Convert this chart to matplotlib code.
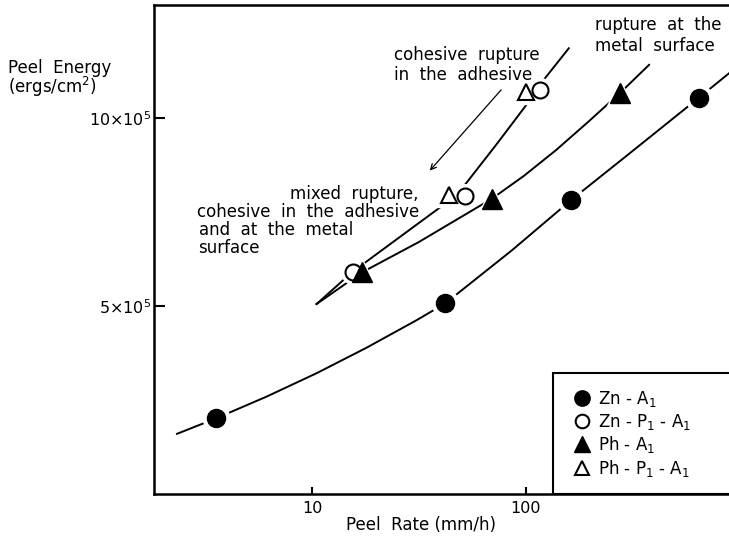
import numpy as np
import matplotlib
matplotlib.use("Agg")
import matplotlib.pyplot as plt
from matplotlib.patches import Rectangle
from matplotlib.ticker import NullLocator

# peel rate (mm/h) and peel energy (x 10^5 ergs/cm2)
zn_rate = [3.56, 42.0, 163, 641]
zn_energy = [2.02, 5.09, 7.82, 10.53]
znp_rate = [15.5, 52.1, 116]
znp_energy = [5.91, 7.91, 10.73]
ph_rate = [17.1, 69.3, 275]
ph_energy = [5.89, 7.85, 10.66]
php_rate = [43.9, 100]
php_energy = [7.95, 10.69]

# hand drawn curves through the points
zn_curve_rate = [2.34, 3.56, 6.14, 10.5, 18.0, 30.8, 42.0, 86, 163, 315, 641, 891]
zn_curve_energy = [1.60, 2.01, 2.59, 3.21, 3.89, 4.62, 5.07, 6.48, 7.82, 9.12, 10.53, 11.19]
coh_curve_rate = [10.5, 15.5, 27.0, 47.6, 73.6, 101.8, 121, 158.5]
coh_curve_energy = [5.05, 5.91, 6.92, 7.95, 9.33, 10.39, 11.01, 11.85]
met_curve_rate = [10.5, 17.1, 31.6, 69.3, 97.9, 138, 195, 275, 376]
met_curve_energy = [5.05, 5.89, 6.70, 7.85, 8.46, 9.14, 9.89, 10.66, 11.41]

fig = plt.figure(figsize=(7.29, 5.39), dpi=100)
ax = fig.add_axes([154 / 729, 1 - 494 / 539, 586 / 729, 489 / 539])

lw = 1.4
for cx, cy in [(zn_curve_rate, zn_curve_energy), (coh_curve_rate, coh_curve_energy),
               (met_curve_rate, met_curve_energy)]:
    ax.plot(cx, cy, color="black", lw=lw, zorder=2)

# white halos so the curves stop short of the symbols
ax.plot(zn_rate, zn_energy, ls="none", marker="o", ms=19, mfc="white", mec="white", zorder=3)
ax.plot(znp_rate, znp_energy, ls="none", marker="o", ms=17, mfc="white", mec="white", zorder=3)
ax.plot(ph_rate, ph_energy, ls="none", marker="^", ms=19, mfc="white", mec="white", zorder=3)
ax.plot(php_rate, php_energy, ls="none", marker="^", ms=17, mfc="white", mec="white", zorder=3)

h1, = ax.plot(zn_rate, zn_energy, ls="none", marker="o", ms=13, mfc="black", mec="black", zorder=4)
h4, = ax.plot(php_rate, php_energy, ls="none", marker="^", ms=12, mfc="white", mec="black", mew=1.5, zorder=4)
h2, = ax.plot(znp_rate, znp_energy, ls="none", marker="o", ms=11.5, mfc="white", mec="black", mew=1.5, zorder=5)
h3, = ax.plot(ph_rate, ph_energy, ls="none", marker="^", ms=14, mfc="black", mec="black", zorder=6)

ax.set_xscale("log")
ax.set_xlim(1.827, 1000)
ax.set_ylim(0, 13.0)
ax.set_xticks([10, 100])
ax.set_xticklabels(["10", "100"])
ax.xaxis.set_minor_locator(NullLocator())
ax.set_yticks([5, 10])
ax.set_yticklabels([r"5$\times$10$^5$", r"10$\times$10$^5$"])
ax.tick_params(axis="x", direction="in", length=5, width=1.5, labelsize=11.5, pad=5)
ax.tick_params(axis="y", direction="in", length=8, width=1.5, labelsize=11.5, pad=2)
for side in ["left", "bottom", "top"]:
    ax.spines[side].set_linewidth(1.8)
ax.spines["right"].set_visible(False)

fs = 12
ax.text(210, 12.71, "rupture  at  the\nmetal  surface", fontsize=fs, ha="left", va="top", linespacing=1.2)
ax.text(24.2, 11.92, "cohesive  rupture\nin  the  adhesive", fontsize=fs, ha="left", va="top", linespacing=1.2)
ax.annotate("", xy=(34.8, 8.54), xytext=(78.1, 10.8),
            arrowprops=dict(arrowstyle="->", color="black", lw=0.9))
ax.text(31.6, 7.98, "mixed  rupture,", fontsize=fs, ha="right", va="center")
ax.text(31.6, 7.50, "cohesive  in  the  adhesive", fontsize=fs, ha="right", va="center")
ax.text(2.95, 7.02, "and  at  the  metal", fontsize=fs, ha="left", va="center")
ax.text(2.95, 6.54, "surface", fontsize=fs, ha="left", va="center")

# legend box running off the right edge
ax.add_patch(Rectangle((0.681, 0), 0.5, 0.2474, transform=ax.transAxes,
                       fill=False, lw=1.5, clip_on=False, zorder=7))
ax.legend([h1, h2, h3, h4],
          ["Zn - A$_1$", "Zn - P$_1$ - A$_1$", "Ph - A$_1$", "Ph - P$_1$ - A$_1$"],
          loc="upper left", bbox_to_anchor=(0.69, 0.245), frameon=False,
          fontsize=fs, handlelength=1.0, handletextpad=0.5, labelspacing=0.15,
          markerscale=0.85)

fig.text(8 / 729, 1 - 68 / 539, "Peel  Energy", fontsize=fs, ha="left", va="center")
fig.text(8 / 729, 1 - 87 / 539, "(ergs/cm$^2$)", fontsize=fs, ha="left", va="center")
fig.text(421 / 729, 1 - 525 / 539, "Peel  Rate (mm/h)", fontsize=fs, ha="center", va="center")

fig.savefig("out.png", dpi=100)
